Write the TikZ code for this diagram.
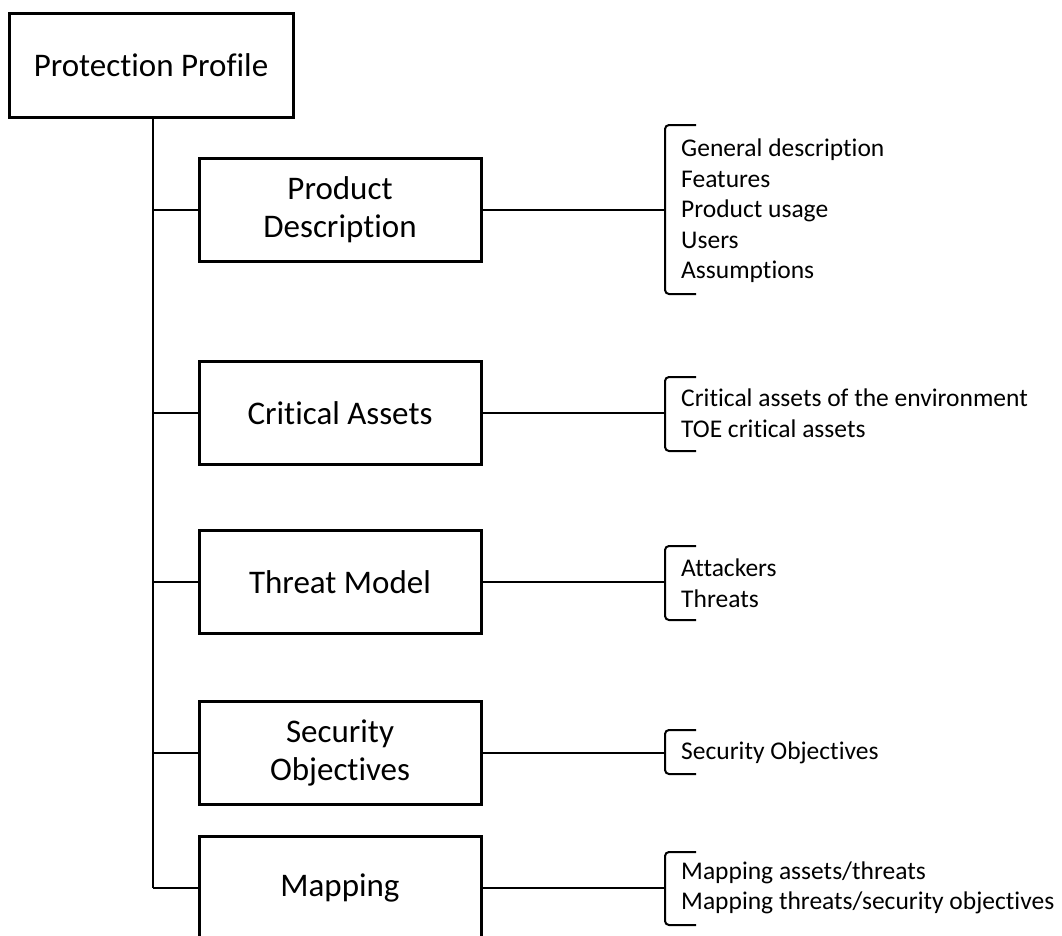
\documentclass[tikz,border=0pt]{standalone}
\usepackage{fontspec}
\setmainfont{Carlito}[Ligatures={NoCommon}]
\begin{document}
\begin{tikzpicture}[x=1pt,y=-1pt,
  box/.style={draw=black,line width=3pt,fill=white,minimum width=282pt,
    minimum height=103pt,align=center,inner sep=0pt,
    font=\fontsize{33}{38}\selectfont},
  link/.style={draw=black,line width=2pt},
  brace/.style={draw=black,line width=2pt,rounded corners=4pt},
  items/.style={anchor=west,align=left,inner sep=0pt,
    font=\fontsize{25.5}{30.5}\selectfont}]
\useasboundingbox (0,0) rectangle (1062,935);
\begin{scope}
\clip (0,0) rectangle (1062,935);

% main box and the trunk below it
\node[box,minimum width=284pt,minimum height=104pt] (pp) at (151,65) {Protection Profile};
\coordinate (trunk) at (153,888);
\draw[link] (pp.south -| trunk) -- (trunk);

% section boxes
\node[box] (pd) at (340,210) {Product\\Description};
\node[box] (ca) at (340,413) {Critical Assets};
\node[box] (tm) at (340,582) {Threat Model};
\node[box] (so) at (340,753) {Security\\Objectives};
\node[box] (mp) at (340,888) {Mapping};

% branches from the trunk
\foreach \n in {pd,ca,tm,so,mp}
  \draw[link] (trunk |- \n.west) -- (\n.west);

% brackets with their item lists
\foreach \n/\top/\bot in {pd/125/294, ca/377/451, tm/546/620, so/730/774, mp/852/925}{
  \coordinate (\n-b) at (665,0 |- \n.east);
  \draw[link] (\n.east) -- (\n-b);
  \draw[brace] (696,\top) -- (665,\top) -- (665,\bot) -- (696,\bot);
}
\node[items] (pdl) at (681,211) {General description\\Features\\Product usage\\Users\\Assumptions};
\node[items] (cal) at (681,413) {Critical assets of the environment\\TOE critical assets};
\node[items] (tml) at (681,583) {Attackers\\Threats};
\node[items] (sol) at (681,753) {Security Objectives};
\node[items] (mpl) at (681,888) {Mapping assets/threats\\Mapping threats/security objectives};
\end{scope}
\end{tikzpicture}
\end{document}
